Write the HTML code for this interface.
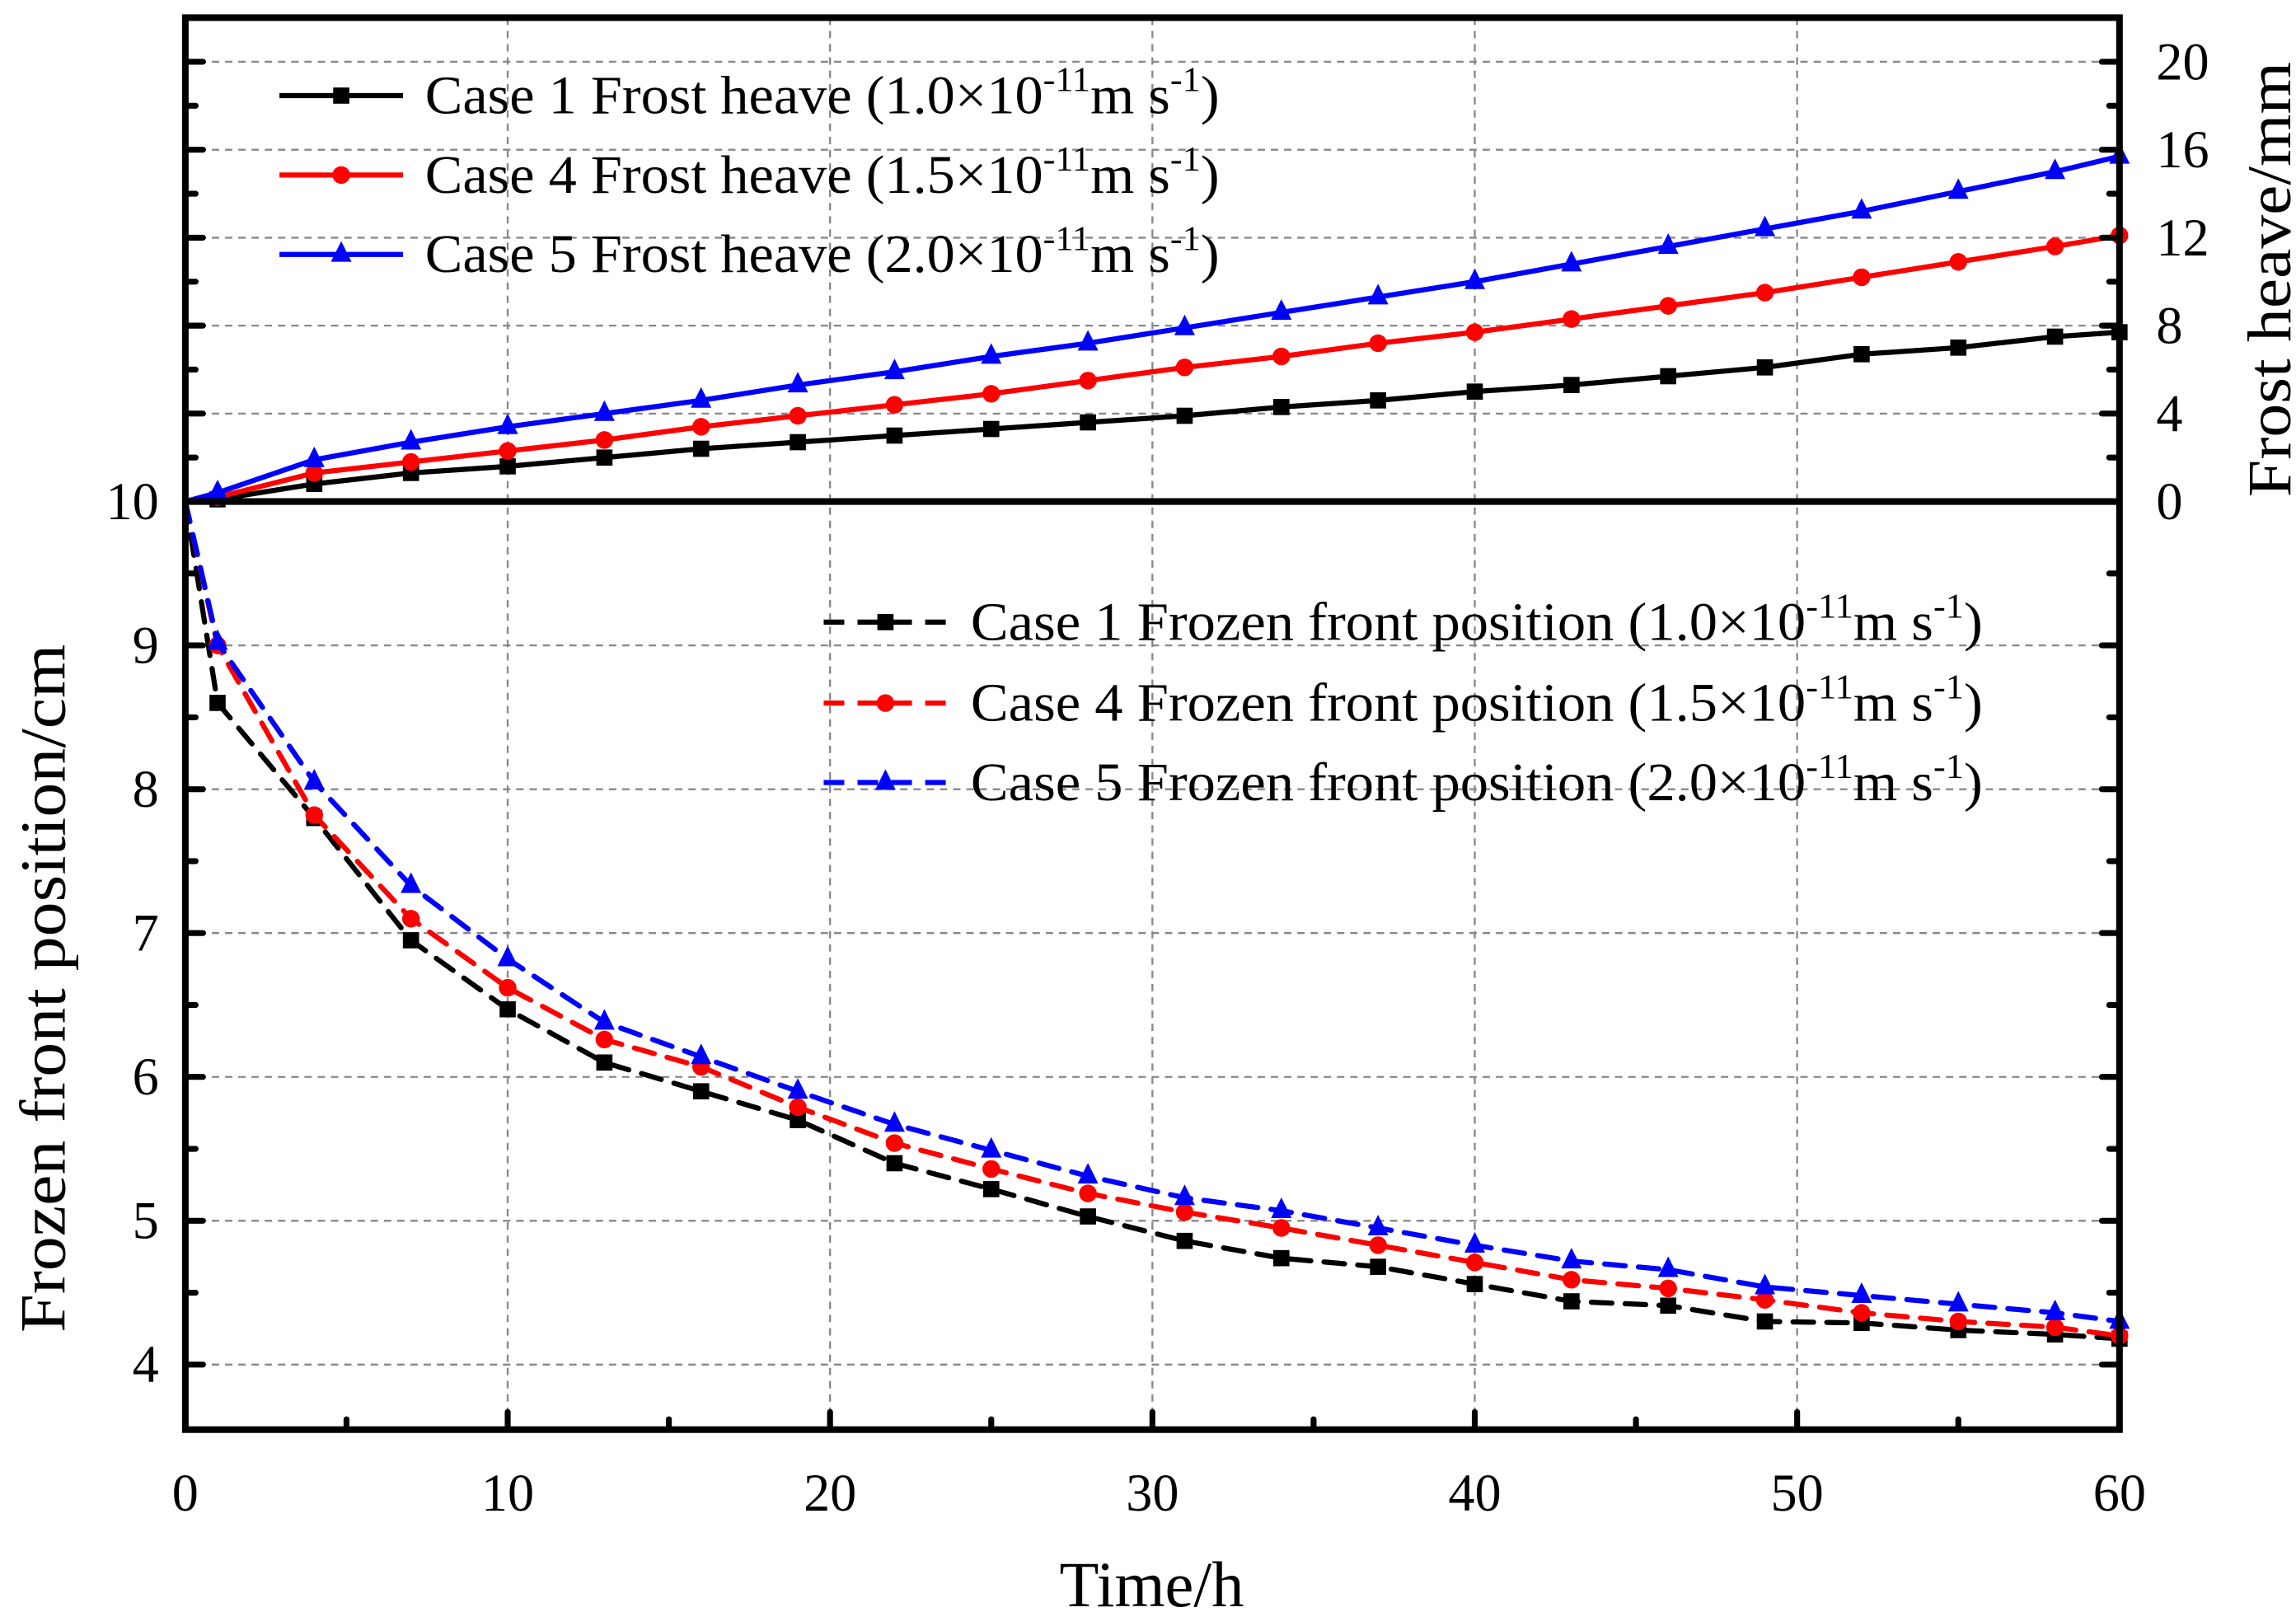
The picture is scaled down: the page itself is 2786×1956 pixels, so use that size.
<!DOCTYPE html>
<html><head><meta charset="utf-8"><style>
html,body{margin:0;padding:0;background:#fff;}
svg{display:block;}
text{font-family:"Liberation Serif","Times New Roman",serif;fill:#000;}
</style></head><body>
<svg id="chart" width="2786" height="1956" viewBox="0 0 1561 1096" preserveAspectRatio="none" xmlns="http://www.w3.org/2000/svg">
<g id="grid"></g>
<g id="series"></g>
<g id="frame"></g>
<g id="legend"></g>
<text font-family="Liberation Serif, serif" transform="translate(44,672) rotate(-90)" text-anchor="middle" font-size="44" textLength="468" lengthAdjust="spacingAndGlyphs">Frozen front position/cm</text>
<text font-family="Liberation Sans, sans-serif" transform="translate(1557,190) rotate(-90)" text-anchor="middle" font-size="42" textLength="296" lengthAdjust="spacingAndGlyphs">Frost heave/mm</text>
<text font-family="Liberation Serif, serif" x="783" y="1092" text-anchor="middle" font-size="44">Time/h</text>
</svg>
<script>
const heaveTimes=[0,1,4,7,10,13,16,19,22,25,28,31,34,37,40,43,46,49,52,55,58,60];
const heaveCase1=[0,0.1,0.8,1.3,1.6,2.0,2.4,2.7,3.0,3.3,3.6,3.9,4.3,4.6,5.0,5.3,5.7,6.1,6.7,7.0,7.5,7.7];
const heaveCase4=[0,0.2,1.3,1.8,2.3,2.8,3.4,3.9,4.4,4.9,5.5,6.1,6.6,7.2,7.7,8.3,8.9,9.5,10.2,10.9,11.6,12.1];
const heaveCase5=[0,0.4,1.9,2.7,3.4,4.0,4.6,5.3,5.9,6.6,7.2,7.9,8.6,9.3,10.0,10.8,11.6,12.4,13.2,14.1,15.0,15.7];
const frontTimes=[0,1,4,7,10,13,16,19,22,25,28,31,34,37,40,43,46,49,52,55,58,60];
const frontCase1=[10,8.6,7.8,6.95,6.47,6.1,5.9,5.7,5.4,5.22,5.03,4.86,4.74,4.68,4.56,4.44,4.41,4.3,4.29,4.24,4.21,4.18];
const frontCase4=[10,9.0,7.82,7.1,6.62,6.26,6.07,5.79,5.54,5.36,5.19,5.06,4.95,4.83,4.71,4.59,4.53,4.45,4.36,4.3,4.26,4.2];
const frontCase5=[10,9.02,8.05,7.33,6.82,6.38,6.14,5.9,5.67,5.49,5.31,5.16,5.07,4.95,4.83,4.72,4.66,4.54,4.48,4.42,4.36,4.3];
const xTicks=[0,10,20,30,40,50,60];
const leftTicks=[4,5,6,7,8,9,10];
const rightTicks=[0,4,8,12,16,20];

const L=126,R=1441,T=12,B=972,MID=341;
const NS="http://www.w3.org/2000/svg";
function X(t){return L+(R-L)*t/60;}
function YF(v){return MID+(10-v)*97.8;}
function YH(v){return MID-v*14.95;}
function el(tag,attrs,parent){const e=document.createElementNS(NS,tag);for(const k in attrs)e.setAttribute(k,attrs[k]);parent.appendChild(e);return e;}
const grid=document.getElementById('grid'),series=document.getElementById('series'),frame=document.getElementById('frame'),legend=document.getElementById('legend');
const gs={stroke:'#888','stroke-width':1.3,'stroke-dasharray':'5,4',fill:'none'};
xTicks.forEach(t=>{if(t>0&&t<60){const g=el('line',Object.assign({x1:X(t),x2:X(t),y1:T,y2:B},gs),grid);

}});
leftTicks.forEach(v=>{if(v<10){const g=el('line',Object.assign({x1:L,x2:R,y1:YF(v),y2:YF(v)},gs),grid);

}});
rightTicks.forEach(v=>{if(v>0){const g=el('line',Object.assign({x1:L,x2:R,y1:YH(v),y2:YH(v)},gs),grid);

}});

function marker(type,x,y,color,parent){let m;
if(type==='sq')m=el('rect',{x:x-5.5,y:y-5.5,width:11,height:11,fill:color},parent);
else if(type==='ci')m=el('circle',{cx:x,cy:y,r:6,fill:color},parent);
else m=el('polygon',{points:`${x},${y-9} ${x-7},${y+5} ${x+7},${y+5}`,fill:color},parent);

}
function drawSeries(ts,vs,yf,color,type,dash,name){
const p=el('polyline',{points:ts.map((t,i)=>X(t)+','+yf(vs[i])).join(' '),fill:'none',stroke:color,'stroke-width':3.5,'stroke-dasharray':dash||'none','stroke-linecap':'round','stroke-linejoin':'round'},series);


ts.forEach((t,i)=>{if(t>0)marker(type,X(t),yf(vs[i]),color,series);});}
drawSeries(heaveTimes,heaveCase1,YH,'#000','sq',null,'frost-heave-case1-line');
drawSeries(heaveTimes,heaveCase4,YH,'#f00','ci',null,'frost-heave-case4-line');
drawSeries(heaveTimes,heaveCase5,YH,'#00f','tr',null,'frost-heave-case5-line');
drawSeries(frontTimes,frontCase1,YF,'#000','sq','14,9','frozen-front-case1-line');
drawSeries(frontTimes,frontCase4,YF,'#f00','ci','14,9','frozen-front-case4-line');
drawSeries(frontTimes,frontCase5,YF,'#00f','tr','14,9','frozen-front-case5-line');

el('rect',{x:L,y:T,width:R-L,height:B-T,fill:'none',stroke:'#000','stroke-width':4.5},frame);
el('line',{x1:L,x2:R,y1:MID,y2:MID,stroke:'#000','stroke-width':4.5},frame);
const tk={stroke:'#000','stroke-width':4,'stroke-linecap':'round'};
for(let t=0;t<=60;t+=5){const len=t%10===0?12:7;el('line',Object.assign({x1:X(t),x2:X(t),y1:B,y2:B-len},tk),frame);}
xTicks.forEach(t=>{const tx=el('text',{x:X(t),y:1027,'text-anchor':'middle','font-size':36,'font-family':'Liberation Serif, serif'},frame);tx.textContent=t;

});
for(let v=3.5;v<=10;v+=0.5){const y=YF(v);if(y>B)continue;const len=(v%1===0)?12:7;el('line',Object.assign({x1:L,x2:L+len,y1:y,y2:y},tk),frame);el('line',Object.assign({x1:R,x2:R-len,y1:y,y2:y},tk),frame);}
leftTicks.forEach(v=>{const tx=el('text',{x:108,y:YF(v)+12,'text-anchor':'end','font-size':36,'font-family':'Liberation Serif, serif'},frame);tx.textContent=v;

});
for(let v=2;v<=22;v+=2){const y=YH(v);const len=(v%4===0)?12:7;el('line',Object.assign({x1:L,x2:L+len,y1:y,y2:y},tk),frame);el('line',Object.assign({x1:R,x2:R-len,y1:y,y2:y},tk),frame);}
rightTicks.forEach(v=>{const tx=el('text',{x:1466,y:YH(v)+12,'text-anchor':'start','font-size':36,'font-family':'Liberation Serif, serif'},frame);tx.textContent=v;

});

const legItems=[
 {c:'#000',m:'sq',d:null,y:65,w:'1.0',label:'Case 1 Frost heave (',x0:190,tx:289,tl:540},
 {c:'#f00',m:'ci',d:null,y:119,w:'1.5',label:'Case 4 Frost heave (',x0:190,tx:289,tl:540},
 {c:'#00f',m:'tr',d:null,y:173,w:'2.0',label:'Case 5 Frost heave (',x0:190,tx:289,tl:540},
 {c:'#000',m:'sq',d:'14,9',y:423,w:'1.0',label:'Case 1 Frozen front position (',x0:560,tx:660,tl:688},
 {c:'#f00',m:'ci',d:'14,9',y:478,w:'1.5',label:'Case 4 Frozen front position (',x0:560,tx:660,tl:688},
 {c:'#00f',m:'tr',d:'14,9',y:532,w:'2.0',label:'Case 5 Frozen front position (',x0:560,tx:660,tl:688}];
legItems.forEach(it=>{
 const g=el('g',{},legend);
 
 
 el('line',{x1:it.x0,x2:it.x0+84,y1:it.y,y2:it.y,stroke:it.c,'stroke-width':3.5,'stroke-dasharray':it.d||'none'},g);
 marker(it.m,it.x0+42,it.y,it.c,g);
 const t=el('text',{x:it.tx,y:it.y+12,'font-size':37,'font-family':'Liberation Serif, serif',textLength:it.tl,lengthAdjust:'spacingAndGlyphs'},g);
 t.innerHTML=it.label+it.w+'\u00d710<tspan dy="-15" font-size="24">-11</tspan><tspan dy="15">m s</tspan><tspan dy="-15" font-size="24">-1</tspan><tspan dy="15">)</tspan>';
});
</script>
</body></html>
